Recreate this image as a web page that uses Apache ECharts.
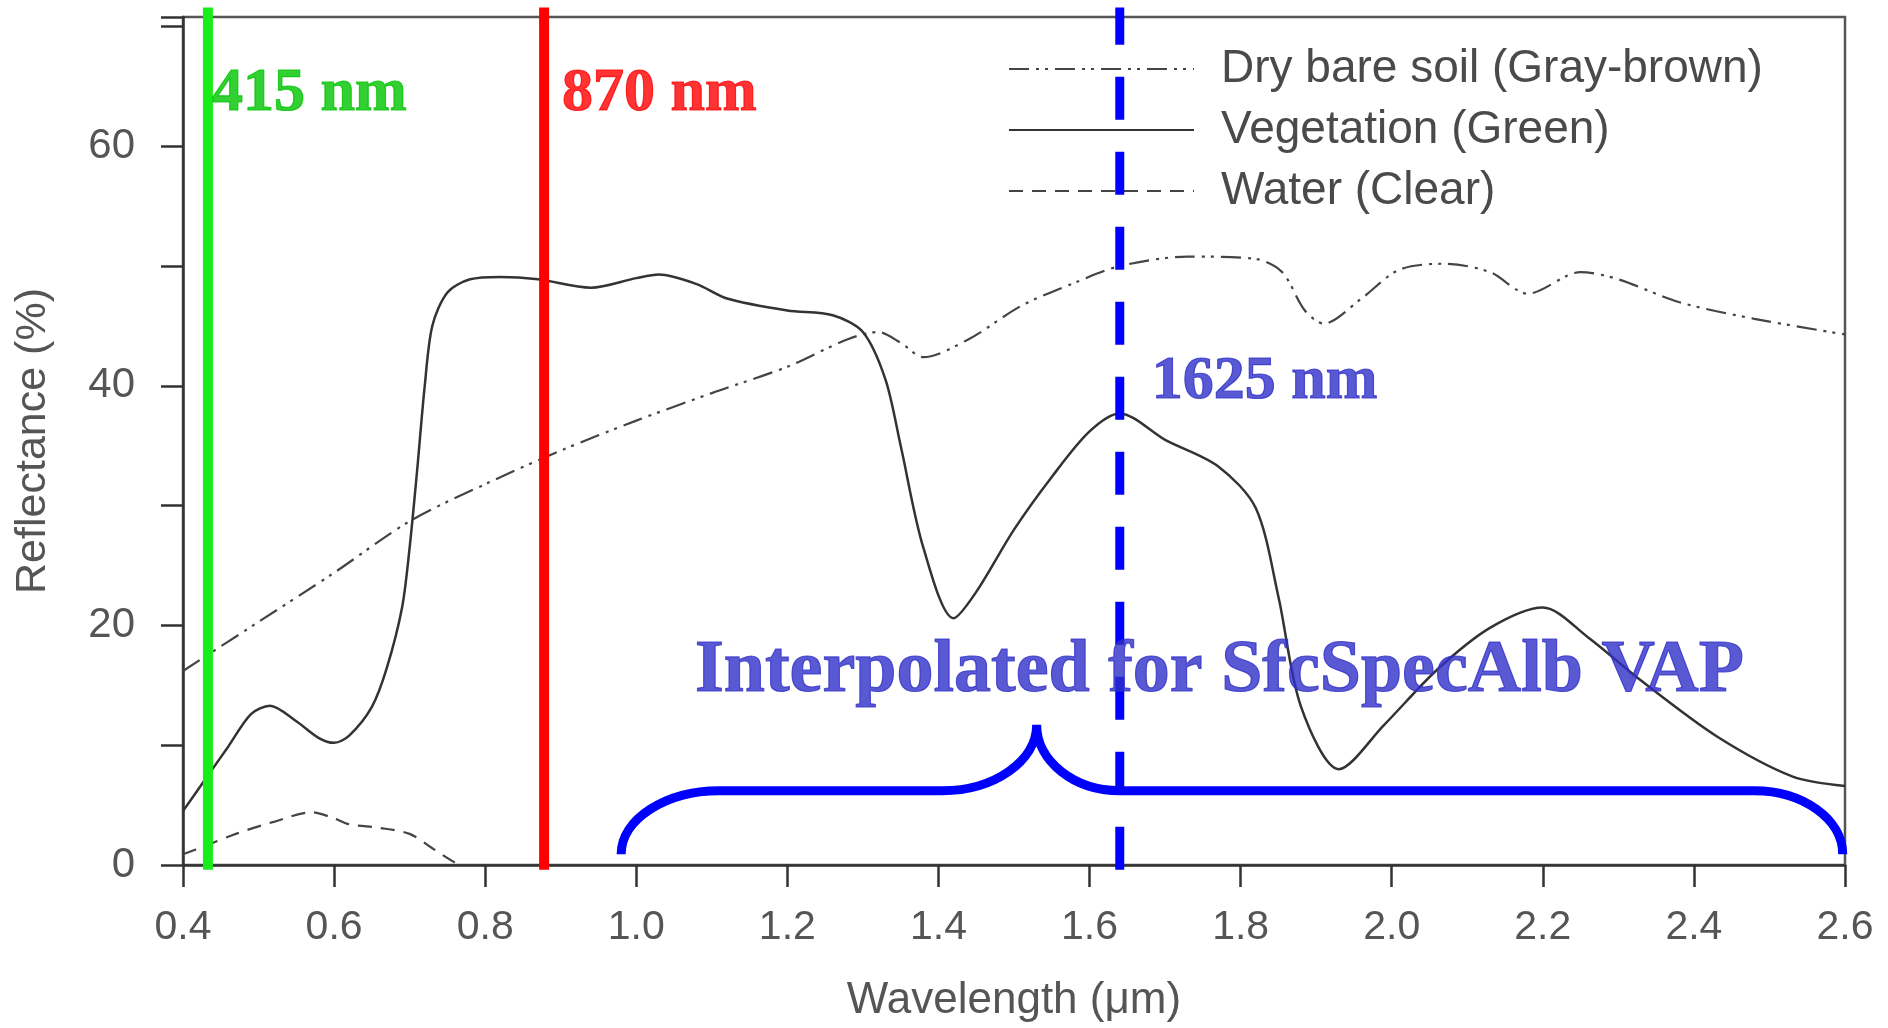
<!DOCTYPE html>
<html><head><meta charset="utf-8">
<script src="https://cdn.jsdelivr.net/npm/echarts@6/dist/echarts.min.js"></script>
<style>html,body{margin:0;padding:0;background:#fff}#c{width:1888px;height:1028px}</style>
</head><body><div id="c"></div>
<script>
// ---- data ----
const soilX = [0.40,0.50,0.60,0.70,0.80,0.90,1.00,1.10,1.20,1.28,1.32,1.35,1.38,1.44,1.51,1.58,1.64,1.73,1.82,1.855,1.885,1.91,1.96,2.01,2.07,2.13,2.18,2.25,2.30,2.38,2.48,2.60];
const soilY = [16.2,20.3,24.4,28.7,31.8,34.6,37.1,39.4,41.6,43.9,44.5,43.6,42.4,43.9,46.7,48.6,50.0,50.8,50.6,49.5,46.3,45.2,47.3,49.7,50.2,49.5,47.7,49.5,48.9,47.0,45.6,44.3];
const vegX = [0.40,0.43,0.46,0.49,0.515,0.55,0.58,0.60,0.62,0.65,0.67,0.69,0.70,0.71,0.72,0.73,0.75,0.78,0.82,0.87,0.94,1.00,1.03,1.08,1.12,1.20,1.26,1.30,1.33,1.35,1.38,1.42,1.45,1.50,1.55,1.60,1.64,1.70,1.77,1.82,1.85,1.88,1.93,1.99,2.06,2.13,2.20,2.26,2.33,2.43,2.53,2.60];
const vegY = [4.5,7.2,9.9,12.6,13.3,12.0,10.6,10.2,10.8,13.2,16.5,21.5,26.5,33.0,40.0,45.0,47.8,48.9,49.1,48.9,48.2,49.0,49.3,48.5,47.3,46.3,45.9,44.5,40.5,35.0,26.5,20.6,22.8,28.0,32.4,36.2,37.7,35.5,33.3,29.8,22.4,13.2,8.0,11.7,16.3,19.8,21.5,19.0,15.4,10.75,7.4,6.6];
const waterX = [0.40,0.43,0.47,0.52,0.57,0.60,0.62,0.66,0.70,0.73,0.76,0.77];
const waterY = [0.9,1.6,2.6,3.6,4.4,3.9,3.4,3.1,2.6,1.4,0.2,0.0];
const seriesNames = ['Dry bare soil (Gray-brown)', 'Vegetation (Green)', 'Water (Clear)'];
const yLabelValues = [0, 20, 40, 60];

// marker wavelengths (µm) and their labels
const markerX = [0.433, 0.878, 1.64];
const markerText = ['415 nm', '870 nm', '1625 nm'];
const markerTextY = [64.4, 64.4, 40.3];
const noteText = 'Interpolated for SfcSpecAlb VAP';
const noteX = 1.772, noteY = 16.1;

// brace key points
const braceX = [0.98, 1.11, 1.405, 1.53, 1.64, 2.48, 2.597];
const braceY = [0.9, 6.2, 6.2, 11.7, 6.2, 6.2, 0.9];

const zip = (xs, ys) => xs.map((x, i) => [x, ys[i]]);
const SANS = 'Liberation Sans';
const SERIF = 'Liberation Serif';

const chart = echarts.init(document.getElementById('c'), null, {renderer: 'canvas'});

function vline(x, color, width, type) {
  return {
    type: 'line', data: [[x, -0.4], [x, 71.6]], symbol: 'none', clip: false, silent: true, z: 10,
    lineStyle: {color: color, width: width, type: type || 'solid', cap: 'butt'}
  };
}

const option = {
  animation: false,
  backgroundColor: '#fff',
  grid: {left: 183, right: 43, top: 17, bottom: 161, show: true, borderColor: '#555', borderWidth: 2.5, backgroundColor: 'transparent'},
  legend: {
    data: seriesNames, orient: 'vertical', left: 1003, top: 41,
    itemWidth: 185, itemHeight: 14, itemGap: 15,
    itemStyle: {opacity: 0},
    textStyle: {fontFamily: SANS, fontSize: 46, color: '#4a4a4a', lineHeight: 44, padding: [0, 0, 0, 22]}
  },
  xAxis: {
    type: 'value', min: 0.4, max: 2.6, interval: 0.2,
    name: 'Wavelength (μm)', nameLocation: 'middle', nameGap: 114,
    nameTextStyle: {fontFamily: SANS, fontSize: 44, color: '#555'},
    axisLine: {lineStyle: {color: '#333', width: 2.5}},
    axisTick: {length: 22, lineStyle: {color: '#333', width: 2.5}},
    axisLabel: {fontFamily: SANS, fontSize: 41, color: '#555', margin: 42, formatter: v => v.toFixed(1)},
    splitLine: {show: false}
  },
  yAxis: {
    type: 'value', min: 0, max: 70.8, interval: 10,
    name: 'Reflectance (%)', nameLocation: 'middle', nameGap: 128,
    nameTextStyle: {fontFamily: SANS, fontSize: 43, color: '#555'},
    axisLine: {lineStyle: {color: '#333', width: 2.5}},
    axisTick: {length: 22, lineStyle: {color: '#333', width: 2.5}},
    axisLabel: {fontFamily: SANS, fontSize: 42, color: '#555', margin: 48,
      formatter: v => (yLabelValues.indexOf(Math.round(v * 100) / 100) >= 0 ? String(v) : '')},
    splitLine: {show: false}
  },
  series: [
    {name: seriesNames[0], type: 'line', data: zip(soilX, soilY), symbol: 'none', smooth: 0.3,
      itemStyle: {color: '#444'},
      lineStyle: {color: '#444', width: 2.2, type: [20, 7, 3, 6, 3, 7]}},
    {name: seriesNames[1], type: 'line', data: zip(vegX, vegY), symbol: 'none', smooth: 0.3,
      itemStyle: {color: '#333'},
      lineStyle: {color: '#333', width: 2.5}},
    {name: seriesNames[2], type: 'line', data: zip(waterX, waterY), symbol: 'none', smooth: 0.3,
      itemStyle: {color: '#444'},
      lineStyle: {color: '#444', width: 2.2, type: [14, 9]}},
    vline(markerX[0], '#19ec19', 10),
    vline(markerX[1], '#ff0000', 10),
    vline(markerX[2], '#0000ff', 9, [43, 32]),
    {
      type: 'custom', silent: true, z: 10, clip: false,
      data: [[braceX[0], braceY[0]]],
      renderItem: function (params, api) {
        const p = braceX.map((x, i) => api.coord([x, braceY[i]]));
        const k = 0.55;
        const vh = (a, b) => `C ${a[0]} ${a[1] + k * (b[1] - a[1])} ${b[0] - k * (b[0] - a[0])} ${b[1]} ${b[0]} ${b[1]} `;
        const hv = (a, b) => `C ${a[0] + k * (b[0] - a[0])} ${a[1]} ${b[0]} ${b[1] - k * (b[1] - a[1])} ${b[0]} ${b[1]} `;
        let d = `M ${p[0][0]} ${p[0][1]} ` + vh(p[0], p[1]) + `L ${p[2][0]} ${p[2][1]} ` + hv(p[2], p[3]) +
                vh(p[3], p[4]) + `L ${p[5][0]} ${p[5][1]} ` + hv(p[5], p[6]);
        return {type: 'path', shape: {pathData: d}, style: {stroke: '#0000ff', lineWidth: 9, fill: null}};
      }
    },
    {
      type: 'scatter', symbolSize: 0, silent: true, z: 11, clip: false,
      label: {show: true, fontFamily: SERIF, fontWeight: 'bold', textBorderWidth: 1.2},
      data: [
        {value: [markerX[0], markerTextY[0]], label: {formatter: markerText[0], position: 'right', distance: 4, color: '#00c400', textBorderColor: '#00c400', fontSize: 62}},
        {value: [markerX[1], markerTextY[1]], label: {formatter: markerText[1], position: 'right', distance: 18, color: '#ff0000', textBorderColor: '#ff0000', fontSize: 62}},
        {value: [markerX[2], markerTextY[2]], label: {formatter: markerText[2], position: 'right', distance: 32, color: '#2f2fc8', textBorderColor: '#2f2fc8', fontSize: 62}},
        {value: [noteX, noteY], label: {formatter: noteText, position: 'inside', color: '#2f2fc8', textBorderColor: '#2f2fc8', fontSize: 74}}
      ]
    }
  ]
};
chart.setOption(option);
</script>
</body></html>
